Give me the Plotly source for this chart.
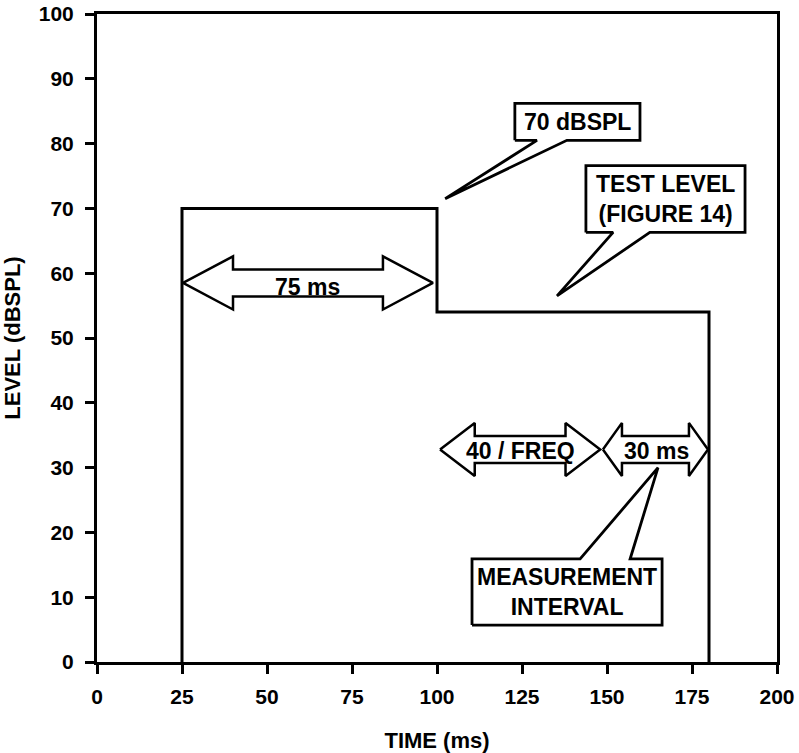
import plotly.graph_objects as go

# ---- data ----
pulse_time = [25, 25, 100, 100, 180, 180]
pulse_level = [0, 70, 70, 54, 54, 0]

arrow_labels = ["75 ms", "40 / FREQ", "30 ms"]
arrow_start = [25.3, 100.9, 148.8]
arrow_end = [98.8, 148.0, 179.7]
arrow_level = [58.5, 32.8, 32.8]
arrow_head = [14.7, 10.2, 5.6]
arrow_text_x = [62.0, 124.7, 164.7]
arrow_text_y = [57.9, 32.5, 32.5]

callout_labels = ["70 dBSPL", "TEST LEVEL<br>(FIGURE 14)", "MEASUREMENT<br>INTERVAL"]
callout_x0 = [122.9, 143.8, 110.3]
callout_x1 = [159.7, 190.6, 166.2]
callout_y0 = [80.5, 66.3, 5.7]
callout_y1 = [86.2, 76.6, 15.9]
callout_base_a = [129.4, 151.8, 142.1]
callout_base_b = [138.2, 162.6, 156.8]
callout_tip_x = [102.4, 135.3, 165.0]
callout_tip_y = [71.5, 56.5, 30.0]
callout_side = ["bottom", "bottom", "top"]

x_ticks = [0, 25, 50, 75, 100, 125, 150, 175, 200]
y_ticks = [0, 10, 20, 30, 40, 50, 60, 70, 80, 90, 100]

FONT = "Liberation Sans, Arial, sans-serif"
HEAD_HALF = 4.1
SHAFT_HALF = 2.08

fig = go.Figure()

fig.add_trace(go.Scatter(x=pulse_time, y=pulse_level, mode="lines",
                         line=dict(color="black", width=3), hoverinfo="skip"))

# callouts
for i in range(len(callout_labels)):
    x0, x1, y0, y1 = callout_x0[i], callout_x1[i], callout_y0[i], callout_y1[i]
    a, b = callout_base_a[i], callout_base_b[i]
    tx, ty = callout_tip_x[i], callout_tip_y[i]
    if callout_side[i] == "bottom":
        xs = [x0, a, tx, b, x1, x1, x0, x0]
        ys = [y0, y0, ty, y0, y0, y1, y1, y0]
    else:
        xs = [x0, x0, a, tx, b, x1, x1, x0]
        ys = [y0, y1, y1, ty, y1, y1, y0, y0]
    fig.add_trace(go.Scatter(x=xs, y=ys, mode="lines", fill="toself",
                             fillcolor="white", line=dict(color="black", width=2.8),
                             hoverinfo="skip"))
    fig.add_annotation(x=(x0 + x1) / 2, y=(y0 + y1) / 2, text=callout_labels[i],
                       showarrow=False, xref="x", yref="y",
                       font=dict(family=FONT, size=23, color="black", weight="bold"),
                       align="center")

# double arrows
for i in range(len(arrow_labels)):
    s, e, c, h = arrow_start[i], arrow_end[i], arrow_level[i], arrow_head[i]
    xs = [s, s + h, s + h, e - h, e - h, e, e - h, e - h, s + h, s + h, s]
    ys = [c, c + HEAD_HALF, c + SHAFT_HALF, c + SHAFT_HALF, c + HEAD_HALF, c,
          c - HEAD_HALF, c - SHAFT_HALF, c - SHAFT_HALF, c - HEAD_HALF, c]
    fig.add_trace(go.Scatter(x=xs, y=ys, mode="lines", fill="toself",
                             fillcolor="white", line=dict(color="black", width=2.5),
                             hoverinfo="skip"))
    fig.add_annotation(x=arrow_text_x[i], y=arrow_text_y[i], text=arrow_labels[i],
                       showarrow=False, xref="x", yref="y",
                       font=dict(family=FONT, size=23, color="black", weight="bold"))

axis_common = dict(showgrid=False, zeroline=False, showline=True, linecolor="black",
                   linewidth=3, mirror=True, ticks="outside", ticklen=9,
                   tickwidth=2.5, tickcolor="black", automargin=False,
                   ticklabeloverflow="allow",
                   tickfont=dict(family=FONT, size=21, color="black", weight="bold"))

fig.update_xaxes(range=[0, 200], tickvals=x_ticks, ticklabelstandoff=5, **axis_common,
                 title=dict(text="TIME (ms)", standoff=30,
                            font=dict(family=FONT, size=22, color="black", weight="bold")))
fig.update_yaxes(range=[0, 100], tickvals=y_ticks, ticklabelstandoff=7, **axis_common,
                 title=dict(text="LEVEL (dBSPL)", standoff=29,
                            font=dict(family=FONT, size=22, color="black", weight="bold")))

fig.update_layout(width=799, height=753, autosize=False, showlegend=False,
                  margin=dict(l=97, r=22, t=14, b=91),
                  plot_bgcolor="white", paper_bgcolor="white")

fig.write_html("out.html", config={"displayModeBar": False},
               post_script="document.body.style.margin='0';document.body.style.padding='0';")
